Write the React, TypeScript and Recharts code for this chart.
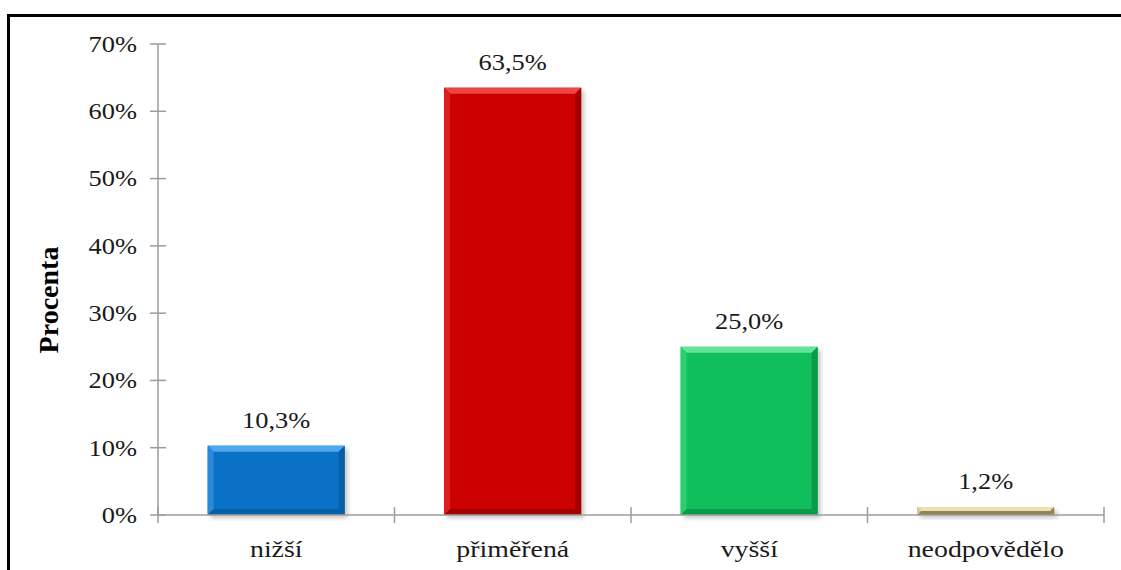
import { BarChart, Bar, XAxis, YAxis, Cell, LabelList } from "recharts";

// hodnocení – podíl odpovědí v procentech
const categories = ["nižší", "přiměřená", "vyšší", "neodpovědělo"];
const percent = [10.3, 63.5, 25.0, 1.2];
const yTicks = [0, 10, 20, 30, 40, 50, 60, 70];

// barvy sloupců: základ, světlá hrana, tmavá hrana
const BAR_COLORS = [
  { base: "#0A72C6", light: "#4FA8EC", side: "#2A88D8", dark: "#075FA6" },
  { base: "#CC0000", light: "#F04444", side: "#DD1F1F", dark: "#A30000" },
  { base: "#10BF5C", light: "#62E59A", side: "#2CCF70", dark: "#0A9A49" },
  { base: "#C9BD88", light: "#EAE1B2", side: "#D6CB98", dark: "#8F8452" },
];

const data = categories.map((name, i) => ({ name, value: percent[i], idx: i }));

const FONT = '"Liberation Serif", "Times New Roman", serif';
const AXIS = "#9c9c9c";
const TEXT = "#1a1a1a";

const fmt = (v: number) => v.toFixed(1).replace(".", ",") + "%";

function BevelBar(props: any) {
  const { x, y, width: w, height: h, payload } = props;
  if (!w || !h) return null;
  const c = BAR_COLORS[payload.idx];
  const b = Math.min(6, h / 2, w / 2);
  return (
    <g>
      <rect x={x + 3} y={y + 3} width={w} height={h} fill="rgba(0,0,0,0.22)" filter="url(#barShadow)" />
      <rect x={x} y={y} width={w} height={h} fill={c.base} />
      <polygon points={`${x},${y} ${x + w},${y} ${x + w - b},${y + b} ${x + b},${y + b}`} fill={c.light} />
      <polygon points={`${x},${y} ${x + b},${y + b} ${x + b},${y + h - b} ${x},${y + h}`} fill={c.side} />
      <polygon points={`${x + w},${y} ${x + w},${y + h} ${x + w - b},${y + h - b} ${x + w - b},${y + b}`} fill={c.dark} />
      <polygon points={`${x},${y + h} ${x + w},${y + h} ${x + w - b},${y + h - b} ${x + b},${y + h - b}`} fill={c.dark} />
    </g>
  );
}

function YTick(props: any) {
  const { x, y, payload } = props;
  return (
    <g>
      <line x1={x - 8} x2={x + 8} y1={y} y2={y} stroke={AXIS} strokeWidth={1.5} />
      <text
        transform={`translate(${x - 21},${y}) scale(1.15,1)`}
        textAnchor="end"
        dominantBaseline="central"
        fontFamily={FONT}
        fontSize={23}
        fill={TEXT}
      >
        {payload.value}%
      </text>
    </g>
  );
}

function XTick(props: any) {
  const { x, y, payload, index, visibleTicksCount, width } = props;
  const half = payload.offset || width / visibleTicksCount / 2;
  const last = index === visibleTicksCount - 1;
  return (
    <g>
      <line x1={x - half} x2={x - half} y1={y - 8} y2={y + 8} stroke={AXIS} strokeWidth={1.5} />
      {last && <line x1={x + half} x2={x + half} y1={y - 8} y2={y + 8} stroke={AXIS} strokeWidth={1.5} />}
      <text
        transform={`translate(${x},${y + 42}) scale(1.16,1)`}
        textAnchor="middle"
        fontFamily={FONT}
        fontSize={24}
        fill={TEXT}
      >
        {payload.value}
      </text>
    </g>
  );
}

function ValueLabel(props: any) {
  const { x, y, width, value } = props;
  return (
    <text
      transform={`translate(${x + width / 2},${y - 18}) scale(1.15,1)`}
      textAnchor="middle"
      fontFamily={FONT}
      fontSize={23}
      fill={TEXT}
    >
      {fmt(value)}
    </text>
  );
}

function AxisTitle(props: any) {
  const { viewBox } = props;
  const cx = viewBox.x + 28;
  const cy = 300;
  return (
    <text
      x={cx}
      y={cy}
      transform={`rotate(-90, ${cx}, ${cy})`}
      textAnchor="middle"
      dominantBaseline="central"
      fontFamily={FONT}
      fontSize={28}
      fontWeight="bold"
      fill="#000"
    >
      Procenta
    </text>
  );
}

export default function App() {
  return (
    <div style={{ position: "fixed", left: 0, top: 0, width: 1121, height: 570, overflow: "hidden", background: "#fff" }}>
      <div
        style={{
          position: "absolute",
          left: 7,
          top: 14,
          width: 1300,
          height: 800,
          borderTop: "3px solid #000",
          borderLeft: "3px solid #000",
        }}
      />
      <div style={{ position: "absolute", left: 0, top: 0 }}>
        <BarChart
          width={1121}
          height={570}
          data={data}
          margin={{ top: 44, right: 17, bottom: 15, left: 20 }}
          barCategoryGap="21%"
        >
          <defs>
            <filter id="barShadow" x="-10%" y="-10%" width="130%" height="130%">
              <feGaussianBlur stdDeviation="2" />
            </filter>
          </defs>
          <XAxis
            dataKey="name"
            height={40}
            stroke={AXIS}
            axisLine={{ stroke: AXIS, strokeWidth: 1.5 }}
            tickLine={false}
            tickSize={0}
            tickMargin={0}
            tick={<XTick />}
            interval={0}
          />
          <YAxis
            width={138}
            domain={[0, 70]}
            ticks={yTicks}
            axisLine={{ stroke: AXIS, strokeWidth: 1.5 }}
            tickLine={false}
            tickSize={0}
            tickMargin={0}
            tick={<YTick />}
            interval={0}
            label={<AxisTitle />}
          />
          <Bar dataKey="value" shape={<BevelBar />} isAnimationActive={false}>
            {data.map((d) => (
              <Cell key={d.name} fill={BAR_COLORS[d.idx].base} />
            ))}
            <LabelList dataKey="value" content={<ValueLabel />} />
          </Bar>
        </BarChart>
      </div>
    </div>
  );
}
